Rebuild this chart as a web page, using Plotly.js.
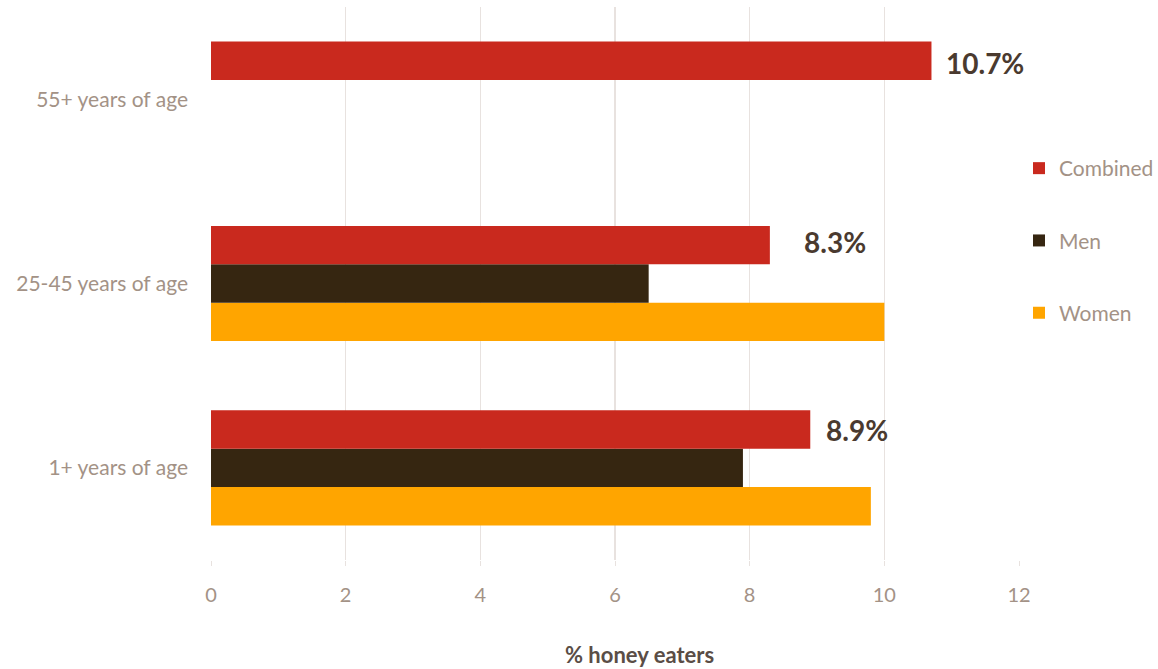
<!DOCTYPE html>
<html>
<head>
<meta charset="utf-8">
<script src="https://cdn.plot.ly/plotly-3.0.1.min.js"></script>
<style>html,body{margin:0;padding:0;background:#fff;}#chart{width:1158px;height:669px;}</style>
</head>
<body>
<div id="chart"></div>
<script>
const categories = ["1+ years of age", "25-45 years of age", "55+ years of age"];
const combined = [8.9, 8.3, 10.7];
const men = [7.9, 6.5, null];
const women = [9.8, 10.0, null];
const combinedLabels = ["8.9%", "8.3%", "10.7%"];
const labelShiftX = [14, 32, 13];
const labelShiftY = [38, 42, 36];
const xTicks = [0, 2, 4, 6, 8, 10, 12];

const FONT = "Lato, 'Open Sans', sans-serif";
const tickColor = "#a39286";

const traces = [
  {type: "bar", orientation: "h", name: "Women", y: categories, x: women,
   marker: {color: "#FFA500"}, legendgroup: "w", legendrank: 3, hoverinfo: "x"},
  {type: "bar", orientation: "h", name: "Men", y: categories, x: men,
   marker: {color: "#362611"}, legendgroup: "m", legendrank: 2, hoverinfo: "x"},
  {type: "bar", orientation: "h", name: "Combined", y: categories, x: combined,
   marker: {color: "#C9291E"}, legendgroup: "c", legendrank: 1, hoverinfo: "x"}
];

const annotations = categories.map((c, i) => ({
  x: combined[i], y: c, xref: "x", yref: "y",
  text: combinedLabels[i], showarrow: false,
  xanchor: "left", yanchor: "middle", xshift: labelShiftX[i], yshift: labelShiftY[i],
  font: {family: FONT, size: 28, color: "#4a3a2f", weight: "bold"}
}));
annotations.push({
  x: 0.53, y: 0, xref: "paper", yref: "paper", yanchor: "middle",
  yshift: -94, text: "<b>% honey eaters</b>", showarrow: false,
  font: {family: FONT, size: 22, color: "#5a4d46"}
});

const layout = {
  width: 1158, height: 669,
  margin: {l: 211, r: 138, t: 7, b: 109},
  paper_bgcolor: "#fff", plot_bgcolor: "#fff",
  barmode: "group", bargap: 0.375, bargroupgap: 0,
  font: {family: FONT, color: tickColor, size: 20},
  xaxis: {
    range: [0, 12], tickvals: xTicks, showgrid: true, gridcolor: "#e8e2df", gridwidth: 1.5,
    zeroline: false, showline: false, ticks: "outside", ticklen: 5, tickcolor: "#e8e2df",
    tickfont: {family: FONT, size: 20, color: tickColor}, ticklabelstandoff: 12, fixedrange: true
  },
  yaxis: {
    categoryorder: "array", categoryarray: categories, range: [-0.5, 2.5],
    showgrid: false, zeroline: false, showline: false, ticks: "",
    tickfont: {family: FONT, size: 21, color: tickColor}, ticklabelstandoff: 22, fixedrange: true
  },
  showlegend: true,
  legend: {
    traceorder: "grouped", tracegroupgap: 42,
    xref: "container", yref: "container",
    x: 1019 / 1158, xanchor: "left", y: 1 - 148 / 669, yanchor: "top",
    font: {family: FONT, size: 21, color: tickColor}, itemwidth: 30
  },
  annotations: annotations
};

Plotly.newPlot("chart", traces, layout, {displayModeBar: false, staticPlot: true});
</script>
</body>
</html>
